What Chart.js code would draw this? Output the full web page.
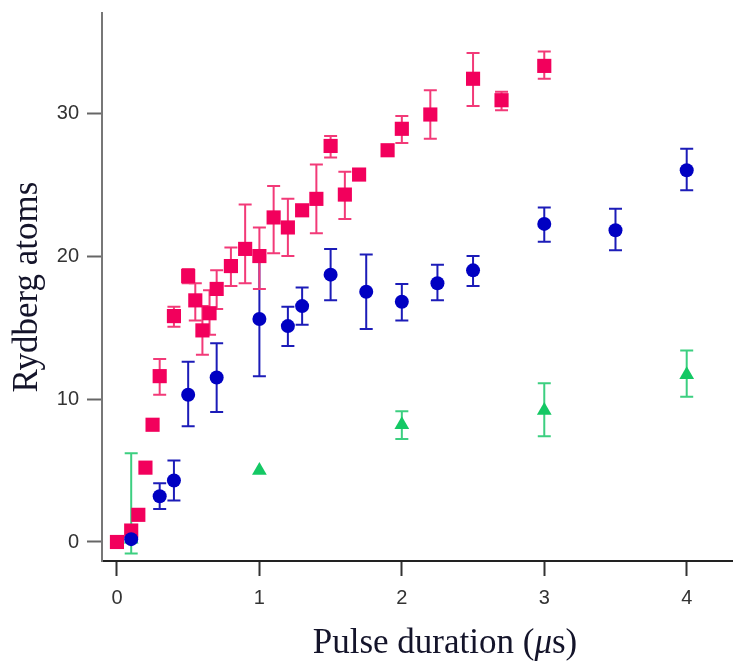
<!DOCTYPE html>
<html>
<head>
<meta charset="utf-8">
<script src="https://cdn.jsdelivr.net/npm/chart.js@4/dist/chart.umd.min.js"></script>
<style>
  body { margin: 0; background: #fff; }
  canvas { display: block; }
</style>
</head>
<body>
<canvas id="rydbergChart" width="733" height="661"></canvas>
<script>
// tick labels
const xTicks = [0, 1, 2, 3, 4];
const yTicks = [0, 10, 20, 30];

// pink squares
const pinkX = [0, 0.1, 0.15, 0.2, 0.25, 0.3, 0.4, 0.5, 0.55, 0.6, 0.65, 0.7, 0.8, 0.9, 1.0, 1.1, 1.2, 1.3, 1.4, 1.5, 1.6, 1.7, 1.9, 2.0, 2.2, 2.5, 2.7, 3.0];
const pinkY = [0, 0.8, 1.9, 5.2, 8.2, 11.6, 15.8, 18.6, 16.9, 14.8, 16.0, 17.7, 19.3, 20.5, 20.0, 22.7, 22.0, 23.2, 24.0, 27.7, 24.3, 25.7, 27.4, 28.9, 29.9, 32.4, 30.9, 33.3];
const pinkLo = [null, null, null, null, null, 10.3, 15.05, 18.1, 15.5, 13.1, 14.5, 16.3, 17.9, 18.1, 17.7, 20.2, 20.0, null, 21.6, 26.9, 22.6, null, null, 27.9, 28.2, 30.5, 30.2, 32.4];
const pinkHi = [null, null, null, null, null, 12.8, 16.45, 19.1, 18.1, 16.5, 17.6, 19.0, 20.6, 23.6, 22.0, 24.9, 24.0, null, 26.4, 28.4, 25.9, null, null, 29.8, 31.6, 34.2, 31.5, 34.3];

// blue circles
const blueX = [0.1, 0.3, 0.4, 0.5, 0.7, 1.0, 1.2, 1.3, 1.5, 1.75, 2.0, 2.25, 2.5, 3.0, 3.5, 4.0];
const blueY = [0.2, 3.2, 4.3, 10.3, 11.5, 15.6, 15.1, 16.5, 18.7, 17.5, 16.8, 18.1, 19.0, 22.25, 21.8, 26.0];
const blueLo = [null, 2.3, 2.9, 8.1, 9.1, 11.6, 13.7, 15.2, 16.9, 14.9, 15.5, 16.9, 17.9, 21.0, 20.4, 24.6];
const blueHi = [null, 4.1, 5.7, 12.6, 13.9, 19.6, 16.45, 17.8, 20.5, 20.1, 18.05, 19.4, 20.0, 23.4, 23.3, 27.5];

// green triangles
const greenX = [0.1, 1.0, 2.0, 3.0, 4.0];
const greenY = [0.2, 5.0, 8.2, 9.2, 11.7];
const greenLo = [-0.8, null, 7.2, 7.4, 10.15];
const greenHi = [6.2, null, 9.15, 11.1, 13.4];

function points(xs, ys) {
  return xs.map((x, i) => ({ x: x, y: ys[i] }));
}

// vertical error bars with caps, drawn under the markers
const errorBars = {
  id: "errorBars",
  beforeDatasetsDraw(chart) {
    const ctx = chart.ctx;
    const xs = chart.scales.x;
    const ys = chart.scales.y;
    chart.data.datasets.forEach((ds) => {
      ctx.save();
      ctx.strokeStyle = ds.errColor;
      ctx.lineWidth = 2;
      ds.data.forEach((p, i) => {
        if (ds.lo[i] == null) return;
        const px = xs.getPixelForValue(p.x);
        const top = ys.getPixelForValue(ds.hi[i]);
        const bot = ys.getPixelForValue(ds.lo[i]);
        ctx.beginPath();
        ctx.moveTo(px, top);
        ctx.lineTo(px, bot);
        ctx.moveTo(px - 6.5, top);
        ctx.lineTo(px + 6.5, top);
        ctx.moveTo(px - 6.5, bot);
        ctx.lineTo(px + 6.5, bot);
        ctx.stroke();
      });
      ctx.restore();
    });
  },
};

// x title with italic mu
const xTitle = {
  id: "xTitle",
  afterDraw(chart) {
    const ctx = chart.ctx;
    const parts = [
      { t: "Pulse duration (", f: "35px 'Liberation Serif'" },
      { t: "\u03bc", f: "italic 35px 'Liberation Serif'" },
      { t: "s)", f: "35px 'Liberation Serif'" },
    ];
    ctx.save();
    let w = 0;
    parts.forEach((p) => { ctx.font = p.f; p.w = ctx.measureText(p.t).width; w += p.w; });
    let x = 445 - w / 2;
    ctx.fillStyle = "#14142a";
    ctx.textBaseline = "alphabetic";
    parts.forEach((p) => { ctx.font = p.f; ctx.fillText(p.t, x, 653); x += p.w; });
    ctx.restore();
  },
};

const ctx = document.getElementById("rydbergChart").getContext("2d");

const chart = new Chart(ctx, {
  type: "scatter",
  data: {
    datasets: [
      {
        label: "blue",
        data: points(blueX, blueY),
        lo: blueLo, hi: blueHi,
        errColor: "#1c1cb8",
        pointStyle: "circle",
        pointRadius: 7,
        backgroundColor: "#0000c2",
        borderColor: "#0000c2",
        borderWidth: 0,
      },
      {
        label: "pink",
        data: points(pinkX, pinkY),
        lo: pinkLo, hi: pinkHi,
        errColor: "#f23a78",
        pointStyle: "rect",
        pointRadius: 10,
        backgroundColor: "#f2005c",
        borderColor: "#f2005c",
        borderWidth: 0,
      },
      {
        label: "green",
        data: points(greenX, greenY),
        lo: greenLo, hi: greenHi,
        errColor: "#3ccf80",
        pointStyle: "triangle",
        pointRadius: 8.5,
        backgroundColor: "#14c864",
        borderColor: "#14c864",
        borderWidth: 0,
      },
    ],
  },
  options: {
    responsive: false,
    animation: false,
    layout: { autoPadding: false, padding: { top: 13, right: 0, bottom: 0, left: 0 } },
    plugins: {
      legend: { display: false },
      tooltip: { enabled: false },
    },
    scales: {
      x: {
        type: "linear",
        min: -0.105,
        max: 4.325,
        afterBuildTicks: (scale) => { scale.ticks = xTicks.map((v) => ({ value: v })); },
        afterFit: (scale) => {
          scale.height = 100;
          scale.paddingLeft = 0;
          scale.paddingRight = 0;
        },
        border: { display: true, color: "#222", width: 2 },
        grid: { drawOnChartArea: false, drawTicks: true, tickLength: 15, tickWidth: 2, tickColor: "#333" },
        ticks: {
          padding: 10,
          color: "#333",
          font: { family: "'Liberation Sans'", size: 20 },
          maxRotation: 0,
        },
      },
      y: {
        type: "linear",
        min: -1.33,
        max: 37,
        afterBuildTicks: (scale) => { scale.ticks = yTicks.map((v) => ({ value: v })); },
        afterFit: (scale) => {
          scale.width = 102;
          scale.paddingTop = 0;
          scale.paddingBottom = 0;
        },
        border: { display: true, color: "#777", width: 2 },
        grid: { drawOnChartArea: false, drawTicks: true, tickLength: 15, tickWidth: 2, tickColor: "#666" },
        ticks: {
          padding: 8,
          color: "#333",
          font: { family: "'Liberation Sans'", size: 20 },
        },
        title: {
          display: true,
          text: "Rydberg atoms",
          color: "#14142a",
          font: { family: "'Liberation Serif'", size: 35 },
          padding: { top: 7, bottom: 0 },
        },
      },
    },
  },
  plugins: [errorBars, xTitle],
});
</script>
</body>
</html>
